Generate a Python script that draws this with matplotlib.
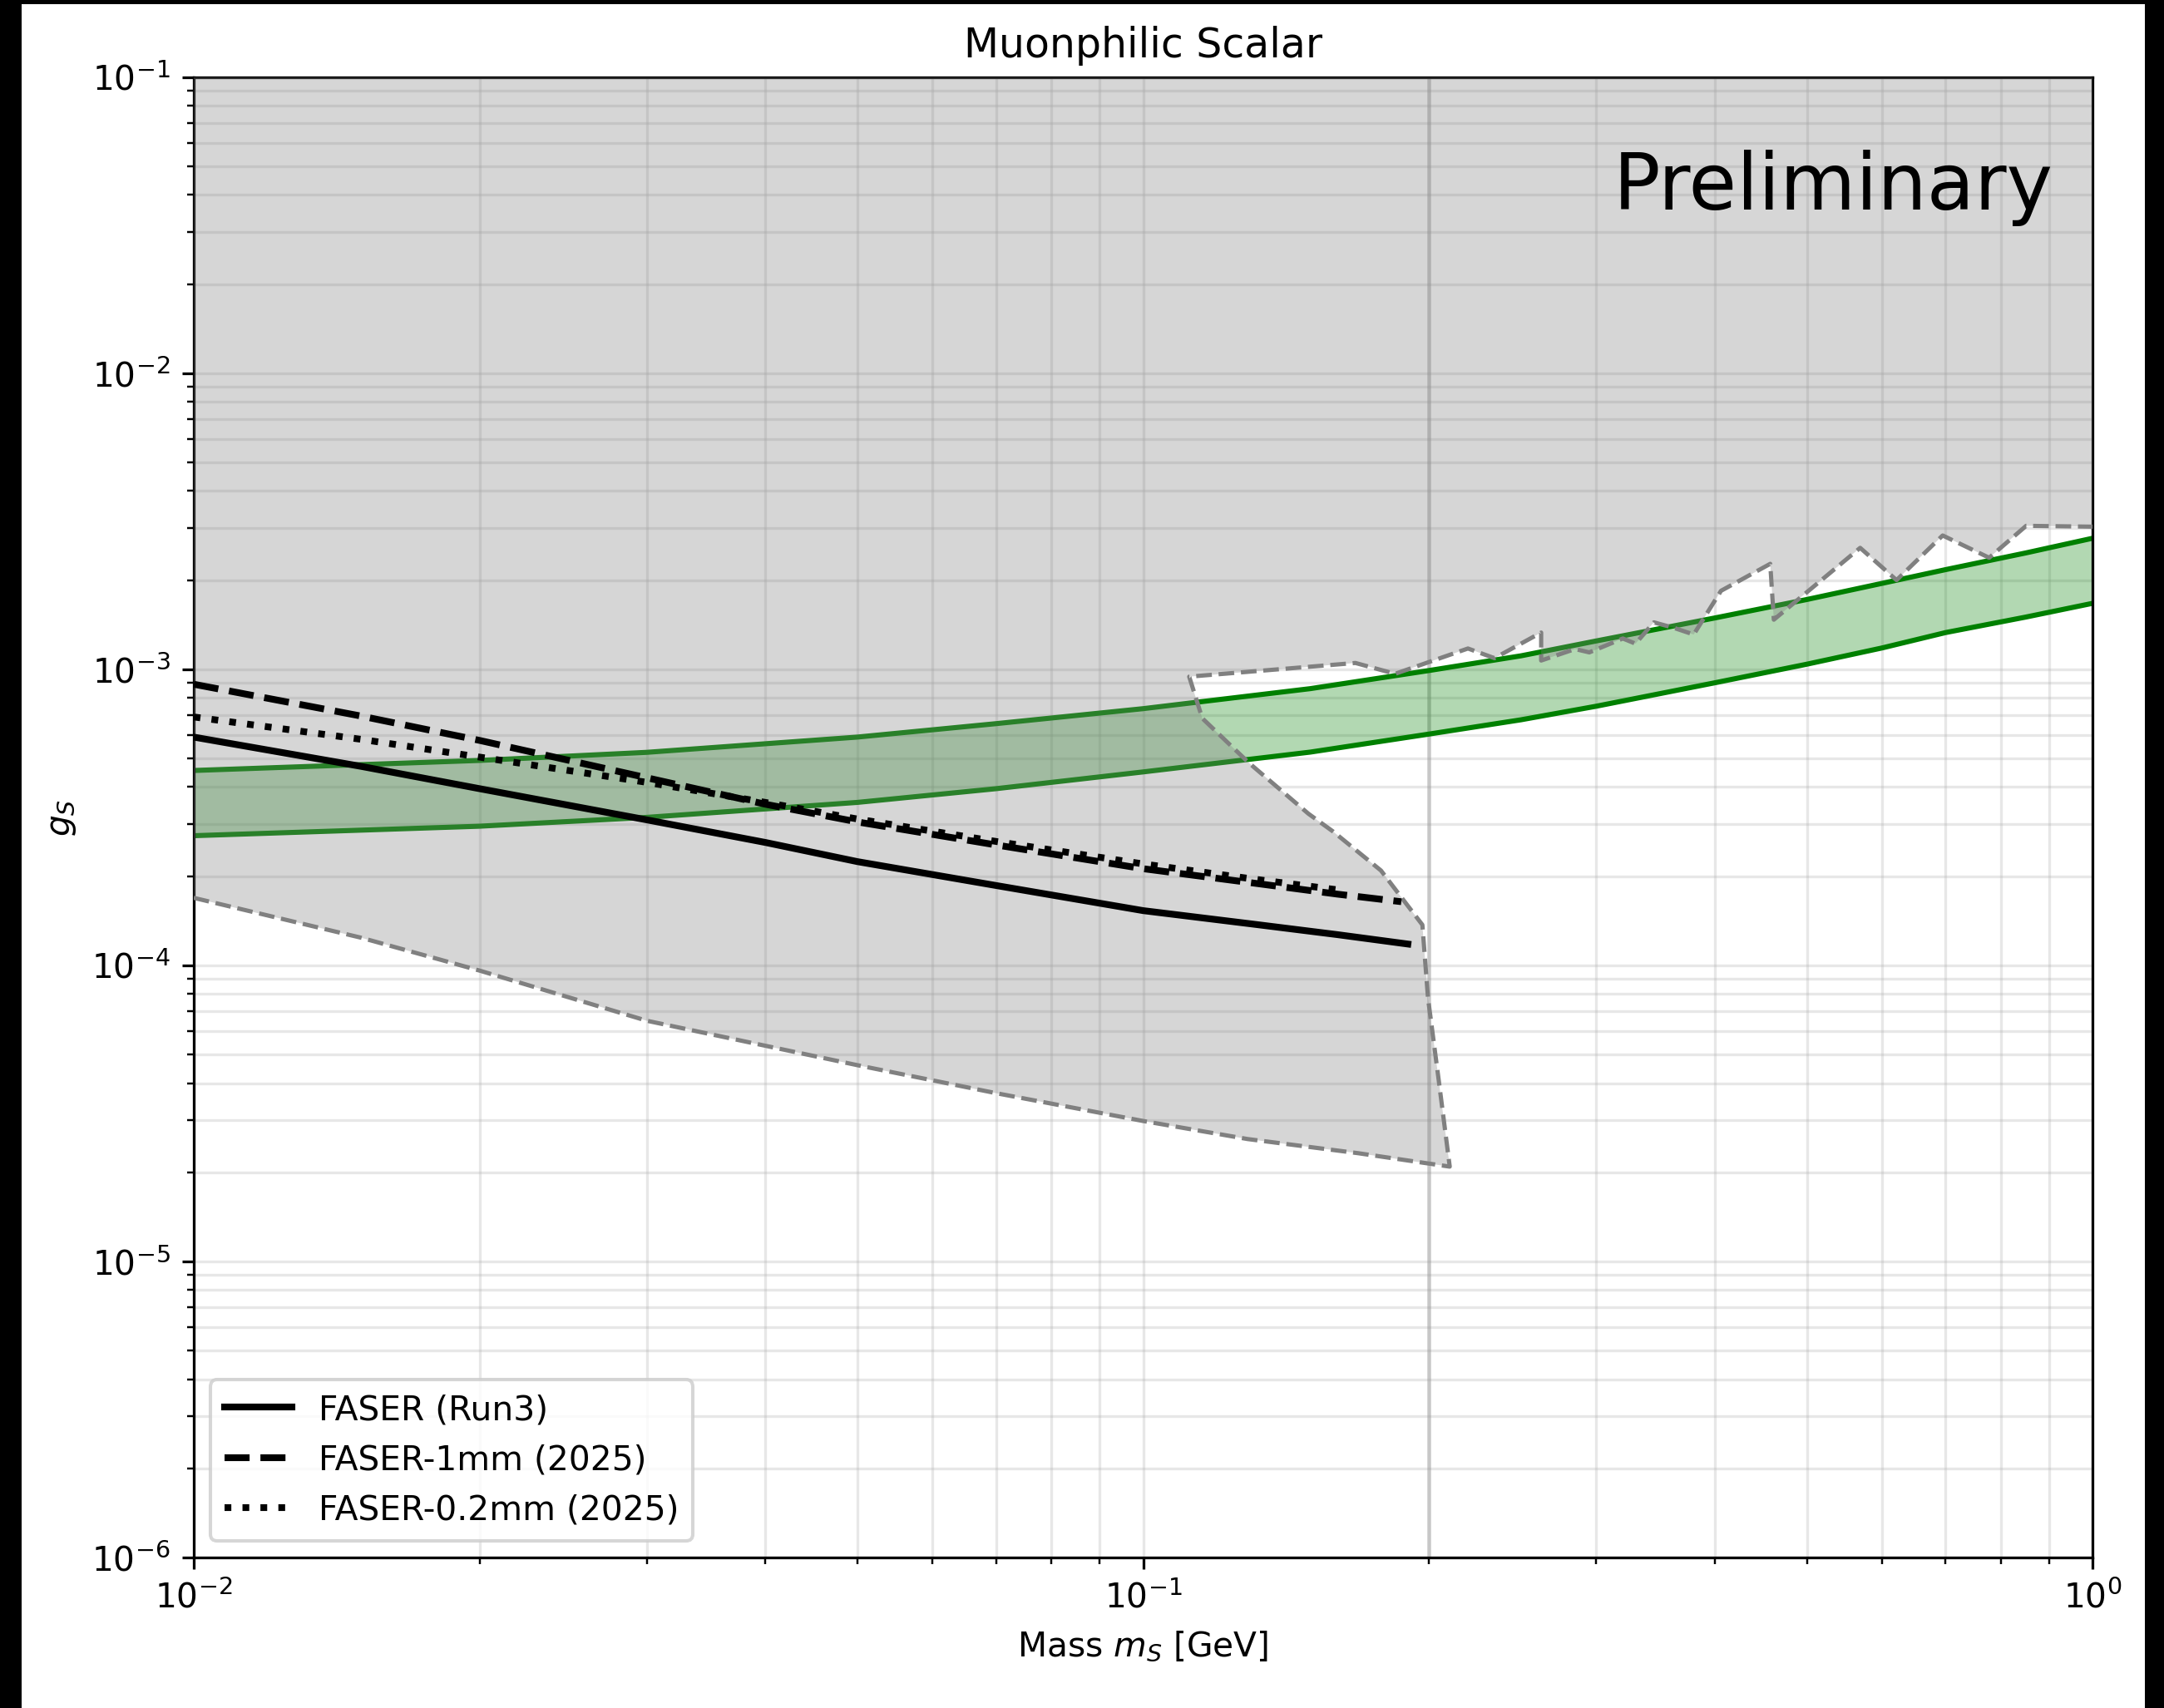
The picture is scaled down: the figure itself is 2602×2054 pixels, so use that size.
import matplotlib
matplotlib.use("Agg")
from matplotlib import pyplot as plt
from matplotlib.patches import Rectangle

DPI = 293

# green band (preferred region)
band_m = [0.01, 0.02, 0.03, 0.05, 0.07, 0.1, 0.15, 0.2, 0.25, 0.3, 0.4, 0.5, 0.6, 0.7, 0.85, 1.0]
band_hi = [4.55e-4, 4.92e-4, 5.24e-4, 5.9e-4, 6.55e-4, 7.36e-4, 8.6e-4, 9.9e-4, 1.11e-3, 1.246e-3,
           1.49e-3, 1.72e-3, 1.95e-3, 2.17e-3, 2.47e-3, 2.77e-3]
band_lo = [2.74e-4, 2.95e-4, 3.16e-4, 3.55e-4, 3.95e-4, 4.5e-4, 5.25e-4, 6.04e-4, 6.75e-4, 7.5e-4,
           9.0e-4, 1.04e-3, 1.18e-3, 1.33e-3, 1.5e-3, 1.67e-3]

# excluded region boundary: lower edge, right edge, upper jagged edge
low_m = [0.01, 0.015, 0.02, 0.03, 0.05, 0.07, 0.1, 0.1288, 0.1684, 0.2103]
low_g = [1.69e-4, 1.24e-4, 9.6e-5, 6.5e-5, 4.6e-5, 3.7e-5, 2.98e-5, 2.59e-5, 2.32e-5, 2.09e-5]
right_m = [0.2048, 0.1995, 0.1968, 0.188, 0.178, 0.1585, 0.1493, 0.1292, 0.1154, 0.1118]
right_g = [4.07e-5, 7.76e-5, 1.37e-4, 1.66e-4, 2.09e-4, 2.83e-4, 3.25e-4, 4.83e-4, 6.83e-4, 9.44e-4]
top_m = [0.1118, 0.1673, 0.1842, 0.2198, 0.2344, 0.2625, 0.2625, 0.285, 0.295, 0.32, 0.33,
         0.345, 0.362, 0.38, 0.406, 0.4575, 0.4615, 0.569, 0.6215, 0.695, 0.778, 0.851, 1.0]
top_g = [9.44e-4, 1.05e-3, 9.65e-4, 1.175e-3, 1.09e-3, 1.33e-3, 1.07e-3, 1.17e-3, 1.14e-3, 1.27e-3, 1.22e-3,
         1.44e-3, 1.38e-3, 1.31e-3, 1.84e-3, 2.27e-3, 1.47e-3, 2.57e-3, 2.0e-3, 2.83e-3, 2.38e-3, 3.05e-3, 3.03e-3]

# FASER sensitivity curves
run3_m = [0.01, 0.015, 0.02, 0.03, 0.04, 0.05, 0.07, 0.1, 0.13, 0.16, 0.19]
run3_g = [5.9e-4, 4.7e-4, 3.95e-4, 3.1e-4, 2.6e-4, 2.24e-4, 1.86e-4, 1.53e-4, 1.38e-4, 1.27e-4, 1.18e-4]
mm1_m = [0.01, 0.015, 0.02, 0.03, 0.04, 0.05, 0.07, 0.1, 0.13, 0.16, 0.187]
mm1_g = [8.9e-4, 6.95e-4, 5.75e-4, 4.3e-4, 3.5e-4, 3.05e-4, 2.55e-4, 2.12e-4, 1.9e-4, 1.74e-4, 1.64e-4]
mm02_m = [0.01, 0.015, 0.02, 0.03, 0.04, 0.05, 0.07, 0.1, 0.13, 0.16]
mm02_g = [6.9e-4, 5.8e-4, 5.05e-4, 4.15e-4, 3.55e-4, 3.12e-4, 2.62e-4, 2.2e-4, 1.96e-4, 1.8e-4]

fig = plt.figure(figsize=(2602.4 / DPI, 2054.4 / DPI), dpi=DPI)
ax = fig.add_axes([0.0895, 0.0881, 0.8774, 0.8666])
ax.set_xscale('log')
ax.set_yscale('log')

ax.fill_between(band_m, band_lo, band_hi, color='green', alpha=0.3, lw=0, zorder=1)
ax.plot(band_m, band_hi, color='green', lw=1.5, zorder=2)
ax.plot(band_m, band_lo, color='green', lw=1.5, zorder=2)

edge_m = low_m + right_m + top_m
edge_g = low_g + right_g + top_g
ax.fill(edge_m + [1.0, 0.01], edge_g + [0.1, 0.1], color='gray', alpha=0.32, lw=0, zorder=3)
ax.plot(edge_m, edge_g, color='gray', ls='--', lw=1.25, zorder=3)
ax.axvline(0.2, color='gray', alpha=0.3, lw=1.2, zorder=0.6)

ax.plot(run3_m, run3_g, color='black', lw=2, ls='-', label='FASER (Run3)', zorder=4)
ax.plot(mm1_m, mm1_g, color='black', lw=2, ls='--', label='FASER-1mm (2025)', zorder=4)
ax.plot(mm02_m, mm02_g, color='black', lw=2, ls=':', label='FASER-0.2mm (2025)', zorder=4)

ax.set_xlim(0.01, 1)
ax.set_ylim(1e-6, 1e-1)
ax.set_axisbelow(True)
ax.grid(True, which='both', alpha=0.3)
ax.set_xlabel('Mass $m_S$ [GeV]')
ax.set_ylabel('$g_S$')
ax.set_title('Muonphilic Scalar')
ax.legend(loc='lower left')
ax.text(0.979, 0.911, 'Preliminary', transform=ax.transAxes, ha='right', va='baseline',
        fontsize=23, color='black')

# dark strips at the edges of the frame
for x0, y0, w, h in [(0, 0, 26 / 2602, 1), (0, 1 - 5 / 2054, 1, 5 / 2054), (2579 / 2602, 0, 23 / 2602, 1)]:
    fig.add_artist(Rectangle((x0, y0), w, h, transform=fig.transFigure, color='black', lw=0))

plt.savefig('out.png', dpi=DPI)
